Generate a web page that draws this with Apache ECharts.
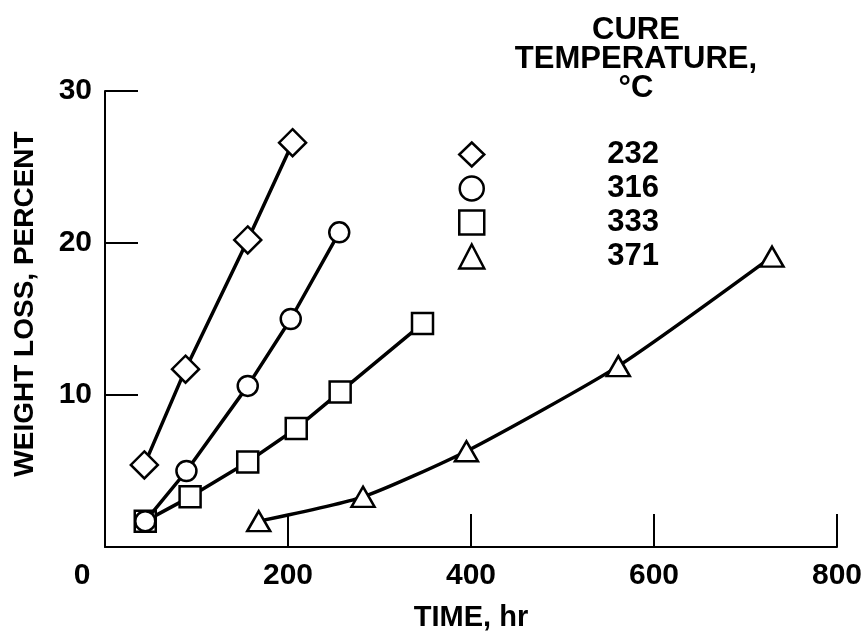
<!DOCTYPE html>
<html>
<head>
<meta charset="utf-8">
<script src="https://cdn.jsdelivr.net/npm/echarts@6/dist/echarts.min.js"></script>
<style>
  html, body { margin: 0; padding: 0; background: #fff; }
  #weight-loss { width: 867px; height: 637px; }
</style>
</head>
<body>
<div id="weight-loss"></div>
<script>
// cure temperature series, deg C
const cureTemps = ['232', '316', '333', '371'];
const symbols = ['diamond', 'circle', 'rect', 'triangle'];

// time, hr  /  weight loss, percent
const time232 = [43, 88, 156, 205];
const loss232 = [5.4, 11.7, 20.2, 26.6];
const time316 = [44, 89, 156, 203, 256];
const loss316 = [1.7, 5.0, 10.6, 15.0, 20.7];
const time333 = [44, 93, 156, 209, 257, 347];
const loss333 = [1.7, 3.3, 5.6, 7.8, 10.2, 14.7];
const time371 = [168, 282, 395, 561, 729];
const loss371 = [1.7, 3.3, 6.3, 11.9, 19.1];

const xTicks = [0, 200, 400, 600, 800];
const yTicks = [0, 10, 20, 30];

const pair = (xs, ys) => xs.map((x, i) => [x, ys[i]]);
const seriesData = [
  pair(time232, loss232),
  pair(time316, loss316),
  pair(time333, loss333),
  pair(time371, loss371),
];
const symbolSizes = [27, 20, 21, [23, 20]];

const font = '"Liberation Sans", Arial, Helvetica, sans-serif';
const myChart = echarts.init(document.getElementById('weight-loss'));

const option = {
  animation: false,
  backgroundColor: '#fff',
  title: {
    text: 'CURE\nTEMPERATURE,\n°C',
    left: 636,
    top: 16,
    padding: 0,
    textAlign: 'center',
    textStyle: {
      fontFamily: font,
      fontWeight: 'bold',
      fontSize: 31,
      lineHeight: 29,
      color: '#000',
    },
  },
  legend: {
    orient: 'vertical',
    left: 458,
    top: 139,
    padding: 0,
    itemWidth: 25,
    itemHeight: 24,
    itemGap: 3,
    selectedMode: false,
    data: cureTemps.map((t, i) => ({
      name: t,
      icon: symbols[i],
      itemStyle: { color: '#fff', borderColor: '#000', borderWidth: 2.5 },
    })),
    textStyle: {
      fontFamily: font,
      fontWeight: 'bold',
      fontSize: 31,
      color: '#000',
      padding: [0, 0, 0, 118],
    },
  },
  grid: {
    left: 105,
    right: 30,
    top: 91,
    bottom: 89,
  },
  xAxis: {
    type: 'value',
    min: xTicks[0],
    max: xTicks[xTicks.length - 1],
    interval: 200,
    name: 'TIME, hr',
    nameLocation: 'middle',
    nameGap: 56,
    nameTextStyle: {
      fontFamily: font,
      fontWeight: 'bold',
      fontSize: 29,
      color: '#000',
    },
    axisLine: { show: true, lineStyle: { color: '#000', width: 2 } },
    axisTick: { show: true, inside: true, length: 33, lineStyle: { color: '#000', width: 2 } },
    splitLine: { show: false },
    axisLabel: {
      margin: 14,
      fontFamily: font,
      fontWeight: 'bold',
      fontSize: 30,
      color: '#000',
      showMaxLabel: true,
      formatter(v) {
        return v === 0 ? '{z|0}' : String(v);
      },
      rich: {
        z: {
          fontFamily: font,
          fontWeight: 'bold',
          fontSize: 30,
          color: '#000',
          padding: [0, 46, 0, 0],
        },
      },
    },
  },
  yAxis: {
    type: 'value',
    min: yTicks[0],
    max: yTicks[yTicks.length - 1],
    interval: 10,
    name: 'WEIGHT LOSS, PERCENT',
    nameLocation: 'middle',
    nameGap: 66,
    nameTextStyle: {
      fontFamily: font,
      fontWeight: 'bold',
      fontSize: 28,
      color: '#000',
      padding: [0, 0, 0, 30],
    },
    axisLine: { show: true, lineStyle: { color: '#000', width: 2 } },
    axisTick: { show: true, inside: true, length: 33, lineStyle: { color: '#000', width: 2 } },
    splitLine: { show: false },
    axisLabel: {
      margin: 13,
      fontFamily: font,
      fontWeight: 'bold',
      fontSize: 30,
      color: '#000',
      formatter(v) {
        return v === 0 ? '' : String(v);
      },
    },
  },
  series: cureTemps.map((t, i) => ({
    name: t,
    type: 'line',
    data: seriesData[i],
    symbol: symbols[i],
    symbolSize: symbolSizes[i],
    showAllSymbol: true,
    smooth: i === 3 ? 0.2 : false,
    lineStyle: { color: '#000', width: 3.5 },
    itemStyle: { color: '#fff', borderColor: '#000', borderWidth: 2.5 },
    z: 2 + (3 - i),
  })),
};

myChart.setOption(option);
myChart.resize();
</script>
</body>
</html>
